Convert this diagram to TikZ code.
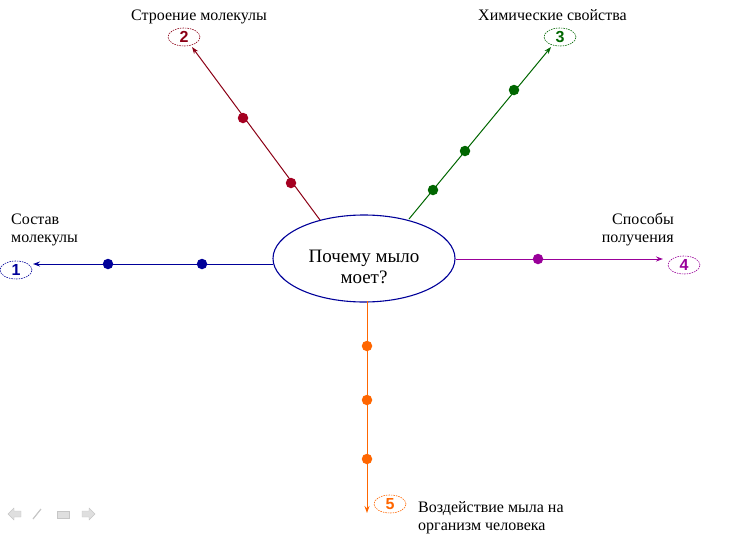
\documentclass[tikz,border=0pt]{standalone}
\usepackage{fontspec}
\setmainfont{Liberation Serif}
\newfontfamily\numfont{Liberation Sans}
\usetikzlibrary{arrows.meta,shapes.geometric}
\definecolor{cblue}{HTML}{000099}
\definecolor{cred}{HTML}{8B0015}
\definecolor{cdot2}{HTML}{A50021}
\definecolor{cgreen}{HTML}{006600}
\definecolor{cpurple}{HTML}{990099}
\definecolor{corange}{HTML}{FF6600}
\tikzset{
  numbox/.style={ellipse,draw,dashed,dash pattern=on 1.5pt off 1pt,line width=0.6pt,minimum width=32pt,minimum height=18pt,inner sep=0pt,font=\numfont\bfseries\fontsize{16}{16}\selectfont},
  lbl/.style={font=\fontsize{16}{18}\selectfont,inner sep=0pt,align=left},
  dotmark/.style={circle,fill,inner sep=0pt,minimum size=10.5pt},
  spoke/.style={line width=1pt,-{Stealth[length=7pt,width=5pt]}},
  nav/.style={fill=gray!25,draw=gray!45,line width=0.4pt}
}
\begin{document}
\begin{tikzpicture}[x=1pt,y=-1pt]
\useasboundingbox (0,0) rectangle (748,541);
% centre
\node[ellipse,draw=cblue,line width=1.1pt,minimum width=182pt,minimum height=87pt,inner sep=0pt] (c) at (364,258.5) {};
\node[align=center,inner sep=0pt,font=\fontsize{19}{21}\selectfont,anchor=base] (ct) at (364,283) {Почему мыло\\моет?};
% number ellipses
\node[numbox,draw=cblue,text=cblue] (n1) at (16,270) {1};
\node[numbox,draw=cred,text=cred] (n2) at (184,37) {2};
\node[numbox,draw=cgreen,text=cgreen] (n3) at (560,37) {3};
\node[numbox,draw=cpurple,text=cpurple] (n4) at (684,265) {4};
\node[numbox,draw=corange,text=corange] (n5) at (390,504) {5};
% arrow end coordinates
\coordinate (e1s) at (273,264); \coordinate (e1) at (33,264);
\coordinate (e2s) at (320,220); \coordinate (e2) at (192,47);
\coordinate (e3s) at (409,219); \coordinate (e3) at (551,47);
\coordinate (e4s) at (456,259); \coordinate (e4) at (663,259);
\coordinate (e5s) at (367,301); \coordinate (e5) at (367,513);
% spokes
\draw[spoke,cblue] (e1s) -- (e1);
\draw[spoke,cred] (e2s) -- (e2);
\draw[spoke,cgreen] (e3s) -- (e3);
\draw[spoke,cpurple] (e4s) -- (e4);
\draw[spoke,corange] (e5s) -- (e5);
% dots
\node[dotmark,cblue] (d11) at (108,264) {};
\node[dotmark,cblue] (d12) at (202,264) {};
\node[dotmark,cdot2] (d21) at (243,118) {};
\node[dotmark,cdot2] (d22) at (291,183) {};
\node[dotmark,cgreen] (d31) at (433,190) {};
\node[dotmark,cgreen] (d32) at (465,151) {};
\node[dotmark,cgreen] (d33) at (514,90) {};
\node[dotmark,cpurple] (d41) at (538,259) {};
\node[dotmark,corange] (d51) at (367,346) {};
\node[dotmark,corange] (d52) at (367,400) {};
\node[dotmark,corange] (d53) at (367,459) {};
% labels
\node[lbl,anchor=base west] (l1) at (11,242) {Состав\\молекулы};
\node[lbl,anchor=base west] (l2) at (131,20) {Строение молекулы};
\node[lbl,anchor=base west] (l3) at (478,20) {Химические свойства};
\node[lbl,anchor=base east,align=right] (l4) at (674,242) {Способы\\получения};
\node[lbl,anchor=base west] (l5) at (418,530) {Воздействие мыла на\\организм человека};
% navigation icons
\draw[nav] (8,514) -- (14,508) -- (14,511) -- (21,511) -- (21,517) -- (14,517) -- (14,520) -- cycle;
\draw[gray!45,line width=1.2pt] (33,519) -- (41,509);
\draw[nav] (57,511) rectangle (69,518);
\draw[nav] (95,514) -- (89,508) -- (89,511) -- (82,511) -- (82,517) -- (89,517) -- (89,520) -- cycle;
\end{tikzpicture}
\end{document}
